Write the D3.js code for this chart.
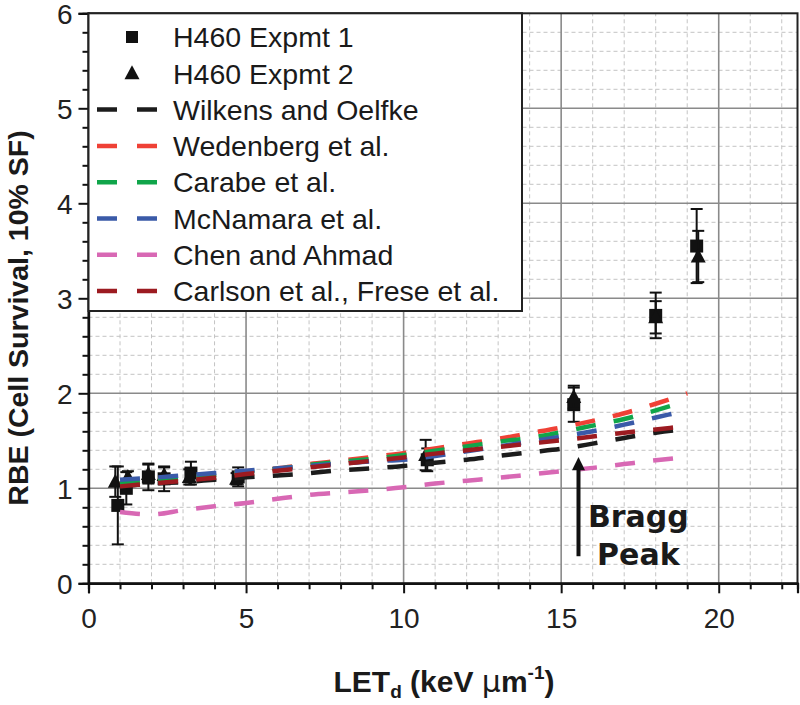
<!DOCTYPE html>
<html><head><meta charset="utf-8">
<script src="https://cdn.jsdelivr.net/npm/d3@7"></script>
<style>body{margin:0;background:#fff}svg{display:block}</style>
</head><body><svg id="c" width="800" height="705"></svg>
<script>
// ---------- data ----------
const xTicks = [0, 5, 10, 15, 20];
const yTicks = [0, 1, 2, 3, 4, 5, 6];

const modelLET = [1,2,3,4,5,6,7,8,9,10,11,12,13,14,15,16,17,18,19];
const wilkens  = [1.02,1.05,1.065,1.09,1.115,1.135,1.16,1.19,1.21,1.235,1.27,1.30,1.34,1.38,1.415,1.47,1.53,1.585,1.625];
const wedenberg= [1.04,1.08,1.11,1.14,1.18,1.21,1.255,1.29,1.33,1.37,1.42,1.47,1.52,1.58,1.64,1.71,1.79,1.89,2.00];
const carabe   = [1.05,1.08,1.11,1.14,1.175,1.205,1.245,1.28,1.31,1.35,1.395,1.44,1.49,1.53,1.59,1.66,1.73,1.82,1.92];
const mcnamara = [1.09,1.11,1.135,1.16,1.185,1.21,1.235,1.26,1.285,1.30,1.34,1.39,1.44,1.49,1.545,1.60,1.67,1.745,1.82];
const chen     = [0.75,0.725,0.77,0.81,0.845,0.89,0.93,0.955,0.98,1.01,1.05,1.08,1.11,1.145,1.18,1.215,1.255,1.295,1.33];
const carlson  = [1.02,1.05,1.08,1.11,1.15,1.185,1.22,1.255,1.29,1.325,1.365,1.40,1.435,1.47,1.505,1.545,1.585,1.62,1.655];

const expt1LET = [0.93,1.2,1.9,2.4,3.25,4.75,10.75,15.4,18.0,19.3];
const expt1RBE = [0.82,1.00,1.12,1.10,1.16,1.12,1.30,1.88,2.82,3.55];
const expt1Err = [0.41,0.17,0.14,0.13,0.12,0.10,0.12,0.18,0.24,0.39];

const expt2LET = [0.85,1.25,1.9,2.4,3.2,4.7,10.7,15.4,18.0,19.35];
const expt2RBE = [1.07,1.12,1.15,1.14,1.12,1.10,1.35,1.96,2.80,3.44];
const expt2Err = [0.16,0.06,0.10,0.08,0.08,0.06,0.16,0.12,0.17,0.27];

const seriesNames  = ["Wilkens and Oelfke","Wedenberg et al.","Carabe et al.","McNamara et al.","Chen and Ahmad","Carlson et al., Frese et al."];
const seriesColors = ["#1c1c1c","#ef4136","#10a54a","#3a5aa8","#d868b4","#9c1b21"];
const seriesValues = [wilkens, wedenberg, carabe, mcnamara, chen, carlson];
const pointNames = ["H460 Expmt 1","H460 Expmt 2"];

// ---------- layout ----------
const svg = d3.select("#c");
const x = d3.scaleLinear().domain([0, 22.5]).range([88.5, 797.5]);
const y = d3.scaleLinear().domain([0, 6]).range([583.3, 13.3]);
const FONT = "'Liberation Sans', Arial, Helvetica, sans-serif";

// grid minor
const gMinor = svg.append("g");
d3.range(1, 23).filter(v => v % 5 !== 0).forEach(v => {
  gMinor.append("line").attr("x1", x(v)).attr("x2", x(v)).attr("y1", y(0)).attr("y2", y(6))
    .attr("stroke", "#c4c4c4").attr("stroke-width", 1).attr("stroke-dasharray", "4,3");
});
d3.range(1, 30).map(i => i * 0.2).filter(v => Math.abs(v - Math.round(v)) > 1e-6).forEach(v => {
  gMinor.append("line").attr("x1", x(0)).attr("x2", x(22.5)).attr("y1", y(v)).attr("y2", y(v))
    .attr("stroke", "#c4c4c4").attr("stroke-width", 1).attr("stroke-dasharray", "4,3");
});
// grid major
const gMajor = svg.append("g");
xTicks.slice(1).forEach(v => gMajor.append("line").attr("x1", x(v)).attr("x2", x(v)).attr("y1", y(0)).attr("y2", y(6))
  .attr("stroke", "#8a8a8a").attr("stroke-width", 1.6));
yTicks.slice(1, -1).forEach(v => gMajor.append("line").attr("x1", x(0)).attr("x2", x(22.5)).attr("y1", y(v)).attr("y2", y(v))
  .attr("stroke", "#8a8a8a").attr("stroke-width", 1.6));

// ---------- points ----------
const gPts = svg.append("g");
function drawPoints(lets, rbes, errs, shape) {
  lets.forEach((L, i) => {
    const cx = x(L), cy = y(rbes[i]);
    const lo = y(rbes[i] - errs[i]), hi = y(rbes[i] + errs[i]);
    gPts.append("line").attr("x1", cx).attr("x2", cx).attr("y1", lo).attr("y2", hi).attr("stroke", "#111").attr("stroke-width", 2);
    [lo, hi].forEach(yy => gPts.append("line").attr("x1", cx - 6).attr("x2", cx + 6).attr("y1", yy).attr("y2", yy).attr("stroke", "#111").attr("stroke-width", 2));
    if (shape === "square") {
      gPts.append("rect").attr("x", cx - 6.5).attr("y", cy - 6.5).attr("width", 13).attr("height", 13).attr("fill", "#111");
    } else {
      gPts.append("path").attr("d", `M${cx},${cy - 8}L${cx + 7.5},${cy + 6}L${cx - 7.5},${cy + 6}Z`).attr("fill", "#111");
    }
  });
}
drawPoints(expt1LET, expt1RBE, expt1Err, "square");
drawPoints(expt2LET, expt2RBE, expt2Err, "triangle");

// ---------- model lines ----------
const line = d3.line().x(d => x(d[0])).y(d => y(d[1])).curve(d3.curveMonotoneX);
const gLines = svg.append("g");
seriesValues.forEach((vals, k) => {
  gLines.append("path").datum(modelLET.map((L, i) => [L, vals[i]]))
    .attr("d", line).attr("fill", "none").attr("stroke", seriesColors[k])
    .attr("stroke-width", 4.5).attr("stroke-dasharray", "20,18.3");
});

// ---------- frame & axes ----------
svg.append("rect").attr("x", x(0)).attr("y", y(6)).attr("width", x(22.5) - x(0)).attr("height", y(0) - y(6))
  .attr("fill", "none").attr("stroke", "#222").attr("stroke-width", 2);

const xAxis = svg.append("g").attr("transform", `translate(0,${y(0)})`)
  .call(d3.axisBottom(x).tickValues(xTicks).tickSize(10).tickFormat(d3.format("d")));
const xMinor = svg.append("g").attr("transform", `translate(0,${y(0)})`)
  .call(d3.axisBottom(x).tickValues(d3.range(1, 23).filter(v => v % 5 !== 0)).tickSize(6).tickFormat(""));
const yAxis = svg.append("g").attr("transform", `translate(${x(0)},0)`)
  .call(d3.axisLeft(y).tickValues(yTicks).tickSize(10).tickFormat(d3.format("d")));
const yMinor = svg.append("g").attr("transform", `translate(${x(0)},0)`)
  .call(d3.axisLeft(y).tickValues(d3.range(1, 30).map(i => i * 0.2).filter(v => Math.abs(v - Math.round(v)) > 1e-6)).tickSize(6).tickFormat(""));
[xAxis, xMinor, yAxis, yMinor].forEach(g => {
  g.select(".domain").attr("stroke", "#111").attr("stroke-width", 2.2);
  g.selectAll(".tick line").attr("stroke", "#111").attr("stroke-width", 2);
  g.selectAll("text").attr("font-family", FONT).attr("font-size", 28).attr("fill", "#222");
});
xAxis.selectAll("text").attr("dy", "0.74em").attr("y", 24);
yAxis.selectAll("text").attr("x", -16).attr("dy", "0.36em");

// ---------- legend ----------
const lg = svg.append("g");
lg.append("rect").attr("x", x(0)).attr("y", y(6)).attr("width", 522 - x(0)).attr("height", 311 - y(6))
  .attr("fill", "#fff").attr("stroke", "#222").attr("stroke-width", 2);
const rowY = i => 37 + i * 36.3;
const labels = pointNames.concat(seriesNames);
labels.forEach((name, i) => {
  const cy = rowY(i);
  if (i === 0) lg.append("rect").attr("x", 132 - 6).attr("y", cy - 6).attr("width", 12).attr("height", 12).attr("fill", "#111");
  else if (i === 1) lg.append("path").attr("d", `M132,${cy - 8}L${139.5},${cy + 6}L${124.5},${cy + 6}Z`).attr("fill", "#111");
  else lg.append("line").attr("x1", 97).attr("x2", 157).attr("y1", cy).attr("y2", cy)
    .attr("stroke", seriesColors[i - 2]).attr("stroke-width", 4.5).attr("stroke-dasharray", "20,20");
  lg.append("text").attr("x", 173).attr("y", cy).attr("dy", "0.36em").attr("font-family", FONT)
    .attr("font-size", 28.5).attr("fill", "#1a1a1a").text(name);
});

// ---------- annotation ----------
const ax = x(15.55);
svg.append("line").attr("x1", ax).attr("x2", ax).attr("y1", y(0.285)).attr("y2", y(1.2))
  .attr("stroke", "#111").attr("stroke-width", 4);
svg.append("path").attr("d", `M${ax},${y(1.33)}L${ax + 6.5},${y(1.19)}L${ax - 6.5},${y(1.19)}Z`).attr("fill", "#111");
const bt = svg.append("text").attr("text-anchor", "middle").attr("font-family", "'DejaVu Sans', Verdana, sans-serif")
  .attr("font-weight", "bold").attr("font-size", 30).attr("fill", "#1a1a1a");
bt.append("tspan").attr("x", x(17.45)).attr("y", y(0.59)).text("Bragg");
bt.append("tspan").attr("x", x(17.45)).attr("y", y(0.19)).text("Peak");

// ---------- axis titles ----------
const xt = svg.append("text").attr("x", 444).attr("y", 692).attr("text-anchor", "middle")
  .attr("font-family", FONT).attr("font-weight", "bold").attr("font-size", 30).attr("fill", "#1a1a1a");
xt.append("tspan").text("LET");
xt.append("tspan").attr("font-size", 19).attr("dy", 6).text("d");
xt.append("tspan").attr("dy", -6).text(" (keV ");
xt.append("tspan").attr("font-weight", "normal").attr("font-family", "'DejaVu Sans', sans-serif").text("\u03BC");
xt.append("tspan").text("m");
xt.append("tspan").attr("font-size", 19).attr("dy", -13).text("-1");
xt.append("tspan").attr("dy", 13).text(")");

svg.append("text").attr("transform", `translate(28,${318}) rotate(-90)`).attr("text-anchor", "middle")
  .attr("font-family", FONT).attr("font-weight", "bold").attr("font-size", 28.5).attr("fill", "#1a1a1a")
  .text("RBE (Cell Survival, 10% SF)");
</script></body></html>
